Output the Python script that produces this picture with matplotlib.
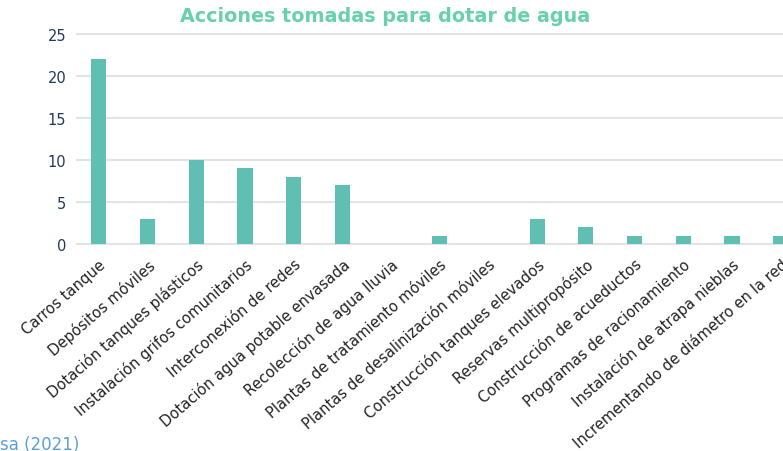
import numpy as np
import matplotlib
matplotlib.use("Agg")
import matplotlib.pyplot as plt
import matplotlib.transforms as mtransforms

# data
categories = [
    "Carros tanque",
    "Depósitos móviles",
    "Dotación tanques plásticos",
    "Instalación grifos comunitarios",
    "Interconexión de redes",
    "Dotación agua potable envasada",
    "Recolección de agua lluvia",
    "Plantas de tratamiento móviles",
    "Plantas de desalinización móviles",
    "Construcción tanques elevados",
    "Reservas multipropósito",
    "Construcción de acueductos",
    "Programas de racionamiento",
    "Instalación de atrapa nieblas",
    "Incrementando de diámetro en la red",
]
values = [22, 3, 10, 9, 8, 7, 0, 1, 0, 3, 2, 1, 1, 1, 1]
yticks = [0, 5, 10, 15, 20, 25]

W, H = 783, 452
fig = plt.figure(figsize=(W / 100, H / 100), dpi=100)

# axes placed in pixels; the right side runs past the figure edge like the reference
ppu_x = 48.7
ppu_y = 8.4
x0, x1 = -0.47, 14.5
y0, y1 = -0.15, 25.15
left_px = 76
bottom_px = 245 + 0.15 * ppu_y
ax = fig.add_axes([left_px / W, (H - bottom_px) / H,
                   (x1 - x0) * ppu_x / W, (y1 - y0) * ppu_y / H])

x = np.arange(len(categories))
ax.bar(x, values, width=0.31, color="#5fbfb3", zorder=3)

ax.set_xlim(x0, x1)
ax.set_ylim(y0, y1)
ax.set_yticks(yticks)
ax.set_xticks(x)
ax.set_xticklabels(categories, rotation=41, ha="right", rotation_mode="anchor",
                   fontsize=10.6, color="#222222")
shift = mtransforms.ScaledTranslation(-6 / 100, -4 / 100, fig.dpi_scale_trans)
for lab in ax.get_xticklabels():
    lab.set_transform(lab.get_transform() + shift)
ax.tick_params(axis="x", length=0, pad=8)
ax.tick_params(axis="y", length=0, pad=7, labelsize=10.5, labelcolor="#1f3a5c")

ax.grid(axis="y", color="#e3e3e3", linewidth=1.5, zorder=0)
for s in ax.spines.values():
    s.set_visible(False)

fig.text(385 / W, 1 - 17 / H, "Acciones tomadas para dotar de agua",
         ha="center", va="center", fontsize=13.8, fontweight="bold",
         color="#68d0aa")

fig.text(79 / W, 1 - 445 / H, "sa (2021)", ha="right", va="center",
         fontsize=12, color="#5b9fd8")

fig.savefig("out.png", dpi=100)
